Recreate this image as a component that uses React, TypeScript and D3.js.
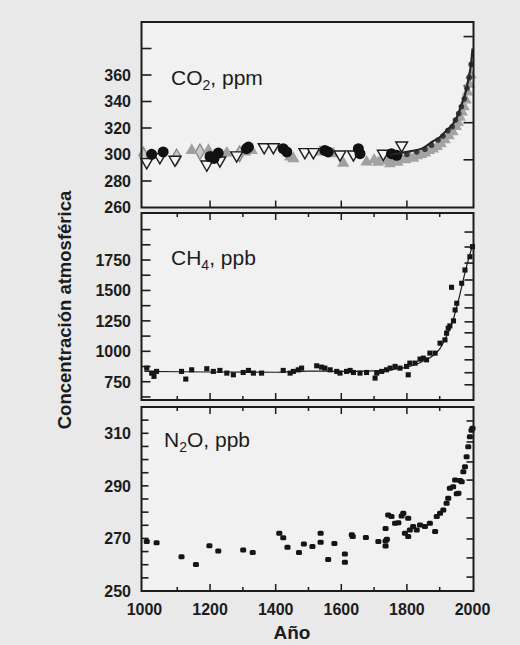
import { useEffect, useRef } from 'react';
import * as d3 from 'd3';

// ---- data ----
const years = [1000, 1200, 1400, 1600, 1800, 2000];

const co2Labels = [260, 280, 300, 320, 340, 360];
const co2Ticks = [280, 300, 320, 340, 360, 380];
const co2RightTicks = [296, 324, 352, 389];
const co2Circles: [number, number][] = [
  [1022, 300.1], [1057, 301.9], [1200, 298.5], [1212, 297.0], [1225, 301.1],
  [1311, 304.4], [1317, 305.6], [1423, 304.4], [1434, 301.9], [1550, 303.1],
  [1560, 301.9], [1652, 304.4], [1657, 300.6], [1753, 300.6], [1769, 299.4],
];
const co2OpenTri: [number, number][] = [
  [1007, 294.3], [1047, 298.1], [1093, 296.1], [1190, 292.5], [1230, 295.6],
  [1281, 299.4], [1365, 305.6], [1393, 305.6], [1489, 301.9], [1515, 301.9],
  [1596, 300.1], [1637, 300.1], [1728, 300.6], [1784, 306.9],
];
const co2GrayTri: [number, number][] = [
  [1144, 303.1], [1195, 303.1], [1251, 301.1], [1307, 301.9], [1327, 303.1],
  [1444, 298.1], [1454, 296.9], [1535, 301.9], [1576, 300.6], [1606, 293.5],
  [1677, 294.3], [1743, 298.1],
];
const co2Diamonds: [number, number][] = [
  [997, 299.4], [1098, 298.1], [1169, 302.0], [1290, 300.5],
];
const co2Cloud: [number, number][] = [
  [1700, 296], [1712, 294], [1724, 297], [1736, 295], [1748, 293], [1760, 296],
  [1772, 294], [1784, 297], [1796, 296], [1808, 298], [1820, 297], [1832, 299],
  [1844, 300], [1856, 301], [1868, 303], [1880, 304], [1892, 306], [1904, 308],
  [1916, 311], [1928, 314], [1940, 317], [1950, 321], [1956, 324], [1962, 328],
  [1968, 332], [1974, 336], [1980, 341], [1985, 347], [1990, 353], [1995, 360],
];
const co2CloudDark: [number, number][] = [
  [1800, 300], [1830, 302], [1855, 304], [1875, 307], [1895, 311], [1910, 314],
  [1925, 318], [1938, 321], [1948, 326], [1958, 331], [1966, 336], [1975, 342],
  [1983, 350], [1990, 358], [1996, 368],
];
const co2Upper: [number, number][] = [
  [1750, 300], [1800, 302], [1850, 305], [1880, 310], [1900, 313], [1920, 318],
  [1940, 323], [1950, 327], [1960, 333], [1970, 340], [1980, 348], [1990, 360],
  [1995, 367], [2000, 380],
];

const ch4Labels = [750, 1000, 1250, 1500, 1750];
const ch4Ticks = [625, 750, 875, 1000, 1125, 1250, 1375, 1500, 1625, 1750, 1875, 2000];
const ch4RightTicks = [725, 824, 930, 1037, 1152, 1242, 1357, 1463, 1586, 1725, 1857, 1980];
const ch4Points: [number, number][] = [
  [1007, 862], [1022, 821], [1029, 794], [1037, 835], [1113, 835], [1126, 772],
  [1144, 848], [1190, 857], [1210, 835], [1230, 843], [1251, 821], [1271, 807],
  [1301, 826], [1317, 843], [1332, 821], [1357, 821], [1423, 843], [1444, 821],
  [1454, 835], [1469, 848], [1479, 862], [1525, 881], [1540, 870], [1550, 862],
  [1566, 848], [1586, 835], [1596, 821], [1616, 835], [1627, 843], [1637, 826],
  [1657, 821], [1677, 826], [1703, 780], [1708, 821], [1723, 835], [1738, 848],
  [1749, 862], [1764, 876], [1779, 862], [1799, 876], [1804, 807], [1809, 903],
  [1825, 903], [1840, 936], [1850, 944], [1860, 930], [1870, 985], [1886, 985],
  [1901, 1067], [1916, 1094], [1921, 1149], [1926, 1190], [1931, 1209], [1936, 1526],
  [1942, 1250], [1947, 1340], [1952, 1395], [1967, 1559], [1977, 1668], [1992, 1777],
  [2000, 1860],
];
const ch4Fit: [number, number][] = [
  [1000, 835], [1200, 830], [1400, 828], [1500, 838], [1600, 835], [1700, 840],
  [1750, 850], [1800, 870], [1850, 920], [1900, 1020], [1920, 1120], [1940, 1250],
  [1960, 1450], [1980, 1680], [2000, 1870],
];

const n2oLabels = [250, 270, 290, 310];
const n2oTicks = [255, 260, 265, 270, 275, 280, 285, 290, 295, 300, 305, 310, 315];
const n2oRightTicks = [255.3, 262.6, 269.8, 277.8, 285, 292.2, 299.1, 306.7, 314.7];
const n2oPoints: [number, number][] = [
  [1007, 268.8], [1037, 268.4], [1113, 263.0], [1157, 260.1], [1198, 267.2],
  [1225, 265.2], [1301, 265.6], [1330, 264.6], [1411, 272.0], [1423, 270.3],
  [1436, 266.6], [1471, 264.6], [1486, 267.9], [1512, 266.9], [1537, 272.0],
  [1537, 268.5], [1560, 262.0], [1579, 268.1], [1611, 264.1], [1611, 260.9],
  [1632, 271.4], [1635, 270.7], [1675, 270.4], [1713, 268.8], [1735, 269.0],
  [1735, 267.1], [1739, 269.7], [1735, 273.8], [1743, 278.9], [1753, 278.3],
  [1764, 275.8], [1774, 276.0], [1784, 278.5], [1789, 279.6], [1794, 272.0],
  [1804, 277.7], [1804, 270.7], [1809, 273.2], [1819, 274.5], [1830, 273.2],
  [1840, 275.1], [1855, 274.5], [1870, 275.8], [1886, 272.6], [1891, 278.3],
  [1901, 279.6], [1911, 280.8], [1921, 283.4], [1926, 285.3], [1931, 289.1],
  [1941, 289.7], [1947, 292.2], [1952, 287.0], [1957, 287.2], [1962, 292.0],
  [1967, 291.6], [1972, 295.4], [1977, 297.3], [1982, 301.1], [1987, 304.9],
  [1992, 308.7], [1997, 311.2], [2000, 311.9],
];

export default function App() {
  const svgRef = useRef<SVGSVGElement>(null);

  useEffect(() => {
    if (!svgRef.current) return;
    const width = 520;
    const height = 645;
    const font = '"Liberation Sans", Arial, Helvetica, sans-serif';
    const ink = '#1c1c1c';

    d3.select(svgRef.current).selectAll('*').remove();
    const svg = d3.select(svgRef.current)
      .attr('width', width)
      .attr('height', height);

    svg.append('rect').attr('width', width).attr('height', height).attr('fill', '#e9e9e9');

    const left = 141.5;
    const right = 473.5;
    const x = d3.scaleLinear().domain([991, 2003]).range([left, right]);

    const panels = [
      { key: 'co2', top: 22, bottom: 207.5, y: d3.scaleLinear().domain([260, 400]).range([207.5, 22]) },
      { key: 'ch4', top: 213, bottom: 400, y: d3.scaleLinear().domain([600, 2120]).range([400, 215]) },
      { key: 'n2o', top: 407, bottom: 591, y: d3.scaleLinear().domain([250, 320]).range([591, 407]) },
    ];
    const [pCO2, pCH4, pN2O] = panels;

    panels.forEach(p => {
      svg.append('rect')
        .attr('x', left).attr('y', p.top)
        .attr('width', right - left).attr('height', p.bottom - p.top)
        .attr('fill', '#f1f1f1');
    });

    const yTicks = (p: typeof pCO2, vals: number[], len: number, side: 'l' | 'r') => {
      const x0 = side === 'l' ? left : right;
      const dir = side === 'l' ? 1 : -1;
      svg.append('g').selectAll('line').data(vals).join('line')
        .attr('x1', x0).attr('x2', x0 + dir * len)
        .attr('y1', d => p.y(d)).attr('y2', d => p.y(d))
        .attr('stroke', ink).attr('stroke-width', 1.6);
    };
    const yLabels = (p: typeof pCO2, vals: number[]) => {
      svg.append('g').selectAll('text').data(vals).join('text')
        .attr('x', 131).attr('y', d => p.y(d)).attr('dy', '0.36em')
        .attr('text-anchor', 'end')
        .style('font-family', font).style('font-weight', 'bold').style('font-size', '16px')
        .attr('fill', ink)
        .text(d => d);
    };
    const xTicks = (yEdge: number, dir: number, withMinor: boolean) => {
      const vals = d3.range(1100, 2000, 100).filter(v => withMinor || v % 200 === 0);
      svg.append('g').selectAll('line').data(vals).join('line')
        .attr('x1', d => x(d)).attr('x2', d => x(d))
        .attr('y1', yEdge).attr('y2', d => yEdge + dir * (d % 200 === 0 ? 7 : 4))
        .attr('stroke', ink).attr('stroke-width', 1.5);
    };

    // CO2 axes
    yTicks(pCO2, co2Ticks, 10, 'l');
    yTicks(pCO2, co2RightTicks, 10, 'r');
    yLabels(pCO2, co2Labels);
    xTicks(pCO2.bottom, -1, false);

    // CH4 axes
    yTicks(pCH4, ch4Ticks, 9, 'l');
    yTicks(pCH4, ch4RightTicks, 9, 'r');
    yLabels(pCH4, ch4Labels);
    xTicks(pCH4.top, 1, true);
    xTicks(pCH4.bottom, -1, true);

    // N2O axes
    yTicks(pN2O, n2oTicks, 7, 'l');
    yTicks(pN2O, n2oRightTicks, 7, 'r');
    yLabels(pN2O, n2oLabels);
    xTicks(pN2O.top, 1, true);
    xTicks(pN2O.bottom, -1, true);

    // CO2 marks
    const co2 = svg.append('g');
    const sym = (type: d3.SymbolType, size: number) => d3.symbol().type(type).size(size)();
    const place = (p: typeof pCO2) => (d: [number, number]) => `translate(${x(d[0])},${p.y(d[1])})`;

    co2.selectAll('.cloud').data(co2Cloud).join('path')
      .attr('class', 'cloud')
      .attr('d', sym(d3.symbolTriangle, 60))
      .attr('transform', place(pCO2))
      .attr('fill', '#a3a3a3');
    co2.selectAll('.diam').data(co2Diamonds).join('path')
      .attr('class', 'diam')
      .attr('d', sym(d3.symbolDiamond, 70))
      .attr('transform', place(pCO2))
      .attr('fill', '#c8c8c8').attr('stroke', '#8a8a8a').attr('stroke-width', 1.4);
    co2.selectAll('.gtri').data(co2GrayTri).join('path')
      .attr('class', 'gtri')
      .attr('d', sym(d3.symbolTriangle, 65))
      .attr('transform', place(pCO2))
      .attr('fill', '#a0a0a0');
    co2.selectAll('.otri').data(co2OpenTri).join('path')
      .attr('class', 'otri')
      .attr('d', sym(d3.symbolTriangle, 60))
      .attr('transform', d => `${place(pCO2)(d)} rotate(180)`)
      .attr('fill', '#f4f4f4').attr('stroke', ink).attr('stroke-width', 1.4);
    co2.selectAll('.circ').data(co2Circles).join('circle')
      .attr('class', 'circ')
      .attr('cx', d => x(d[0])).attr('cy', d => pCO2.y(d[1]))
      .attr('r', 5.5)
      .attr('fill', '#111');
    co2.selectAll('.dark').data(co2CloudDark).join('circle')
      .attr('class', 'dark')
      .attr('cx', d => x(d[0])).attr('cy', d => pCO2.y(d[1]))
      .attr('r', 2.8)
      .attr('fill', '#3a3a3a');
    co2.append('path')
      .datum(co2Upper)
      .attr('d', d3.line<[number, number]>().x(d => x(d[0])).y(d => pCO2.y(d[1])).curve(d3.curveMonotoneX))
      .attr('fill', 'none').attr('stroke', '#262626').attr('stroke-width', 2.2);

    // CH4 marks
    svg.append('path')
      .datum(ch4Fit)
      .attr('d', d3.line<[number, number]>().x(d => x(d[0])).y(d => pCH4.y(d[1])).curve(d3.curveMonotoneX))
      .attr('fill', 'none').attr('stroke', ink).attr('stroke-width', 1.2);
    svg.append('g').selectAll('path').data(ch4Points).join('path')
      .attr('d', sym(d3.symbolSquare, 26))
      .attr('transform', place(pCH4))
      .attr('fill', '#151515');

    // N2O marks
    svg.append('g').selectAll('rect').data(n2oPoints).join('rect')
      .attr('x', d => x(d[0]) - 3).attr('y', d => pN2O.y(d[1]) - 2.5)
      .attr('width', 6).attr('height', 5).attr('rx', 1.5)
      .attr('fill', '#151515');

    // frames
    panels.forEach(p => {
      svg.append('rect')
        .attr('x', left).attr('y', p.top)
        .attr('width', right - left).attr('height', p.bottom - p.top)
        .attr('fill', 'none').attr('stroke', ink).attr('stroke-width', 2);
    });

    // panel titles
    const title = (xp: number, yp: number, a: string, sub: string, b: string) => {
      const t = svg.append('text')
        .attr('x', xp).attr('y', yp)
        .style('font-family', font).style('font-size', '21px')
        .attr('fill', ink);
      t.append('tspan').text(a);
      t.append('tspan').attr('dy', 5).style('font-size', '14px').text(sub);
      t.append('tspan').attr('dy', -5).text(b);
    };
    title(171, 85, 'CO', '2', ', ppm');
    title(171, 265, 'CH', '4', ', ppb');
    title(164, 447, 'N', '2', 'O, ppb');

    // x tick labels and axis titles
    svg.append('g').selectAll('text').data(years).join('text')
      .attr('x', d => x(d)).attr('y', 615)
      .attr('text-anchor', 'middle')
      .style('font-family', font).style('font-weight', 'bold').style('font-size', '16px')
      .attr('fill', ink)
      .text(d => d);

    svg.append('text')
      .attr('x', 292).attr('y', 639)
      .attr('text-anchor', 'middle')
      .style('font-family', font).style('font-weight', 'bold').style('font-size', '19px')
      .attr('fill', ink)
      .text('Año');

    svg.append('text')
      .attr('transform', 'translate(71,310) rotate(-90)')
      .attr('text-anchor', 'middle')
      .style('font-family', font).style('font-weight', 'bold').style('font-size', '18.5px')
      .attr('fill', ink)
      .text('Concentración atmosférica');
  }, []);

  return (
    <div style={{ position: 'fixed', left: 0, top: 0 }}>
      <svg ref={svgRef} style={{ display: 'block' }}></svg>
    </div>
  );
}
